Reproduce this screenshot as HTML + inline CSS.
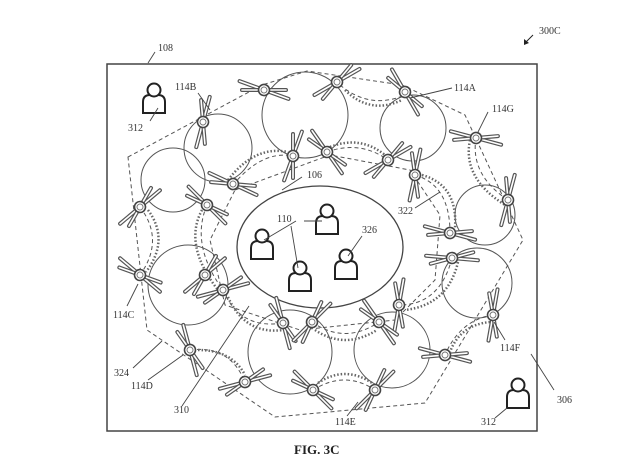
<!DOCTYPE html>
<html><head><style>
html,body{margin:0;padding:0;background:#fff;width:640px;height:464px;overflow:hidden}
text{font-family:"Liberation Serif",serif;font-size:10px;fill:#333}
</style></head><body>
<svg width="640" height="464" viewBox="0 0 640 464" xmlns="http://www.w3.org/2000/svg">
<defs>
<g id="d">
  <line x1="-26" y1="0" x2="26" y2="0" stroke="#555" stroke-width="4" stroke-linecap="round"/>
  <line x1="-26" y1="0" x2="26" y2="0" stroke="#fff" stroke-width="1.6" stroke-linecap="round"/>
  <line x1="0" y1="-22" x2="0" y2="22" stroke="#555" stroke-width="4" stroke-linecap="round" transform="rotate(70)"/>
  <line x1="0" y1="-22" x2="0" y2="22" stroke="#fff" stroke-width="1.6" stroke-linecap="round" transform="rotate(70)"/>
  <circle r="5.5" fill="#fff" stroke="#444" stroke-width="1.6"/>
  <circle r="3" fill="none" stroke="#777" stroke-width="1"/>
</g>
<g id="p">
  <path d="M-11,14 L-11,3 Q-11,-4 -4,-4 L4,-4 Q11,-4 11,3 L11,14 Z" fill="#fff" stroke="#222" stroke-width="2"/>
  <circle cy="-9" r="6.5" fill="#fff" stroke="#222" stroke-width="2"/>
</g>
</defs>
<rect x="107" y="64" width="430" height="367" fill="none" stroke="#444" stroke-width="1.5"/>

<!-- outer dashed polygon -->
<polygon points="128,157 262,85 307,71 402,85 465,115 523,240 425,403 275,417 147,330" fill="none" stroke="#555" stroke-dasharray="4,3" stroke-width="1"/>
<!-- inner dashed polygon -->
<polygon points="235,190 330,155 410,170 440,215 435,280 395,320 300,330 225,305 210,240" fill="none" stroke="#555" stroke-dasharray="4,3" stroke-width="1"/>

<!-- big circles -->
<g fill="none" stroke="#555" stroke-width="1">
<circle cx="305" cy="115" r="43"/>
<circle cx="413" cy="128" r="33"/>
<circle cx="218" cy="148" r="34"/>
<circle cx="173" cy="180" r="32"/>
<circle cx="188" cy="285" r="40"/>
<circle cx="290" cy="352" r="42"/>
<circle cx="392" cy="350" r="38"/>
<circle cx="477" cy="283" r="35"/>
<circle cx="485" cy="215" r="30"/>
</g>
<!-- dashed and dotted arcs -->
<g fill="none" stroke="#555" stroke-width="1" stroke-dasharray="4,3">
<path d="M340,85 Q370,110 405,95"/>
<path d="M233,185 Q262,150 293,156"/>
<path d="M327,152 Q360,140 388,160"/>
<path d="M415,175 Q450,185 450,233"/>
<path d="M476,138 Q470,175 508,200"/>
<path d="M140,207 Q165,240 140,275"/>
<path d="M207,205 Q190,245 223,290"/>
<path d="M223,290 Q240,330 283,323"/>
<path d="M312,322 Q345,345 379,322"/>
<path d="M452,258 Q440,305 399,305"/>
<path d="M493,315 Q460,320 445,355"/>
<path d="M190,350 Q230,345 245,382"/>
<path d="M313,390 Q345,370 375,390"/>
</g>
<g fill="none" stroke="#666" stroke-width="2.5" stroke-dasharray="1.5,2">
<path d="M345,90 Q370,115 402,100"/>
<path d="M228,180 Q255,145 288,152"/>
<path d="M330,147 Q360,135 385,155"/>
<path d="M422,175 Q458,185 455,228"/>
<path d="M470,140 Q462,178 505,205"/>
<path d="M148,210 Q170,240 146,272"/>
<path d="M202,210 Q183,245 218,290"/>
<path d="M228,297 Q245,335 283,330"/>
<path d="M315,330 Q345,350 377,330"/>
<path d="M458,262 Q448,305 405,310"/>
<path d="M490,322 Q460,325 450,352"/>
<path d="M198,350 Q232,350 245,375"/>
<path d="M318,383 Q345,365 372,383"/>
</g>

<!-- ellipse -->
<ellipse cx="320" cy="247" rx="83" ry="61" fill="#fff" stroke="#444" stroke-width="1.3"/>
<g>
<use href="#p" transform="translate(262,245)"/>
<use href="#p" transform="translate(327,220)"/>
<use href="#p" transform="translate(300,277)"/>
<use href="#p" transform="translate(346,265)"/>
<use href="#p" transform="translate(154,99)"/>
<use href="#p" transform="translate(518,394)"/>
</g>

<!-- drones -->
<use href="#d" transform="translate(264,90) rotate(20)"/>
<use href="#d" transform="translate(337,82) rotate(-30)"/>
<use href="#d" transform="translate(405,92) rotate(60)"/>
<use href="#d" transform="translate(203,122) rotate(-75)"/>
<use href="#d" transform="translate(476,138) rotate(15)"/>
<use href="#d" transform="translate(293,156) rotate(-70)"/>
<use href="#d" transform="translate(327,152) rotate(55)"/>
<use href="#d" transform="translate(388,160) rotate(-30)"/>
<use href="#d" transform="translate(415,175) rotate(-78)"/>
<use href="#d" transform="translate(233,184) rotate(25)"/>
<use href="#d" transform="translate(140,207) rotate(-40)"/>
<use href="#d" transform="translate(207,205) rotate(45)"/>
<use href="#d" transform="translate(508,200) rotate(-75)"/>
<use href="#d" transform="translate(450,233) rotate(15)"/>
<use href="#d" transform="translate(452,258) rotate(5)"/>
<use href="#d" transform="translate(140,275) rotate(40)"/>
<use href="#d" transform="translate(205,275) rotate(-40)"/>
<use href="#d" transform="translate(223,290) rotate(-15)"/>
<use href="#d" transform="translate(399,305) rotate(-80)"/>
<use href="#d" transform="translate(283,323) rotate(75)"/>
<use href="#d" transform="translate(312,322) rotate(-45)"/>
<use href="#d" transform="translate(379,322) rotate(55)"/>
<use href="#d" transform="translate(493,315) rotate(-80)"/>
<use href="#d" transform="translate(190,350) rotate(75)"/>
<use href="#d" transform="translate(445,355) rotate(15)"/>
<use href="#d" transform="translate(245,382) rotate(-15)"/>
<use href="#d" transform="translate(313,390) rotate(45)"/>
<use href="#d" transform="translate(375,390) rotate(-45)"/>

<!-- leader lines -->
<g stroke="#444" stroke-width="0.9" fill="none">
<line x1="155" y1="52" x2="148" y2="63"/>
<line x1="198" y1="93" x2="210" y2="110"/>
<line x1="452" y1="88" x2="410" y2="98"/>
<line x1="488" y1="112" x2="478" y2="132"/>
<line x1="150" y1="121" x2="158" y2="108"/>
<line x1="302" y1="177" x2="282" y2="190"/>
<line x1="296" y1="221" x2="264" y2="240"/>
<line x1="304" y1="221" x2="322" y2="221"/>
<line x1="291" y1="226" x2="298" y2="268"/>
<line x1="362" y1="236" x2="348" y2="256"/>
<line x1="415" y1="208" x2="440" y2="192"/>
<line x1="127" y1="306" x2="138" y2="284"/>
<line x1="505" y1="340" x2="494" y2="322"/>
<line x1="554" y1="390" x2="531" y2="354"/>
<line x1="133" y1="368" x2="162" y2="341"/>
<line x1="148" y1="380" x2="183" y2="355"/>
<line x1="182" y1="406" x2="249" y2="306" />
<line x1="347" y1="416" x2="358" y2="402"/>
<line x1="495" y1="418" x2="507" y2="408"/>
</g>
<line x1="533" y1="35" x2="526" y2="42" stroke="#222" stroke-width="1"/>
<polygon points="524,45 524,39 529,43" fill="#222"/>

<!-- labels -->
<text x="158" y="51">108</text>
<text x="539" y="34">300C</text>
<text x="175" y="90">114B</text>
<text x="454" y="91">114A</text>
<text x="492" y="112">114G</text>
<text x="128" y="131">312</text>
<text x="307" y="178">106</text>
<text x="277" y="222">110</text>
<text x="362" y="233">326</text>
<text x="398" y="214">322</text>
<text x="113" y="318">114C</text>
<text x="500" y="351">114F</text>
<text x="114" y="376">324</text>
<text x="131" y="389">114D</text>
<text x="557" y="403">306</text>
<text x="174" y="413">310</text>
<text x="335" y="425">114E</text>
<text x="481" y="425">312</text>
<text x="294" y="454" style="font-size:13px;font-weight:bold;fill:#222">FIG. 3C</text>
</svg>
</body></html>
